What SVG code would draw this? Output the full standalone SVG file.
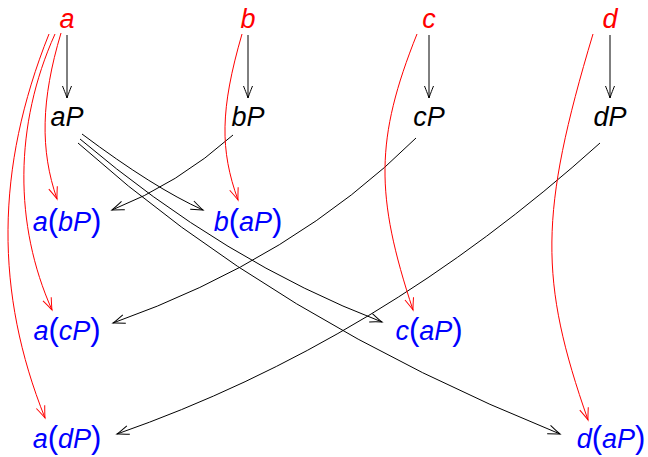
<svg xmlns="http://www.w3.org/2000/svg" width="648" height="457" viewBox="0 0 648 457">
<style>
.t{font-family:"Liberation Sans",Arial,sans-serif;font-size:27px;font-style:italic;text-anchor:middle}
.src{fill:#ff0000}
.mid{fill:#000}
.res{fill:#0000ff}
.up{font-style:normal;font-size:31px}
.k{fill:none;stroke:#000;stroke-width:1}
.r{fill:none;stroke:#ff0000;stroke-width:1}
</style>
<defs>
<marker id="ak" markerUnits="userSpaceOnUse" orient="auto" refX="0" refY="0" markerWidth="16" markerHeight="12" viewBox="-14 -6 16 12" overflow="visible">
<path d="M-12,-4.5 C-7,-2.5 -2,-0.6 0,0 C-2,0.6 -7,2.5 -12,4.5" fill="none" stroke="#000" stroke-width="1"/>
</marker>
<marker id="ar" markerUnits="userSpaceOnUse" orient="auto" refX="0" refY="0" markerWidth="16" markerHeight="12" viewBox="-14 -6 16 12" overflow="visible">
<path d="M-12,-4.5 C-7,-2.5 -2,-0.6 0,0 C-2,0.6 -7,2.5 -12,4.5" fill="none" stroke="#ff0000" stroke-width="1"/>
</marker>
</defs>

<g id="connectors">
<g class="k">
<path d="M67,35 V98" marker-end="url(#ak)"/>
<path d="M248,35 V98" marker-end="url(#ak)"/>
<path d="M429,35 V98" marker-end="url(#ak)"/>
<path d="M610,35 V98" marker-end="url(#ak)"/>
<path d="M82,134 Q154,188 203,210" marker-end="url(#ak)"/>
<path d="M80,139 Q225,262 382,322" marker-end="url(#ak)"/>
<path d="M78,143 Q274,319 560,434" marker-end="url(#ak)"/>
<path d="M233,135 Q178,184 112,210" marker-end="url(#ak)"/>
<path d="M416,138 Q294,259 113,323" marker-end="url(#ak)"/>
<path d="M600,143 Q378,343 117,434" marker-end="url(#ak)"/>
</g>
<g class="r">
<path d="M61,33 C41,100 40,150 57,199" marker-end="url(#ar)"/>
<path d="M55,34 C14,125 14,225 52,310" marker-end="url(#ar)"/>
<path d="M49,34 C-5,169 -5,293 45,418" marker-end="url(#ar)"/>
<path d="M242,34 C220,110 220,150 238,200" marker-end="url(#ar)"/>
<path d="M417,34 C375,139 375,195 413,310" marker-end="url(#ar)"/>
<path d="M593,34 C539,214 539,280 588,420" marker-end="url(#ar)"/>
</g>
</g>

<g id="node-a"><text class="t src" x="67" y="28">a</text></g>
<g id="node-b"><text class="t src" x="248" y="28">b</text></g>
<g id="node-c"><text class="t src" x="429" y="28">c</text></g>
<g id="node-d"><text class="t src" x="610" y="28">d</text></g>

<g id="node-aP"><text class="t mid" x="67" y="126">aP</text></g>
<g id="node-bP"><text class="t mid" x="248" y="126">bP</text></g>
<g id="node-cP"><text class="t mid" x="429" y="126">cP</text></g>
<g id="node-dP"><text class="t mid" x="610" y="126">dP</text></g>

<g id="node-a_bP"><text class="t res" x="67" y="231">a<tspan class="up">(</tspan>bP<tspan class="up">)</tspan></text></g>
<g id="node-b_aP"><text class="t res" x="248" y="231">b<tspan class="up">(</tspan>aP<tspan class="up">)</tspan></text></g>
<g id="node-a_cP"><text class="t res" x="67" y="340">a<tspan class="up">(</tspan>cP<tspan class="up">)</tspan></text></g>
<g id="node-c_aP"><text class="t res" x="429" y="340">c<tspan class="up">(</tspan>aP<tspan class="up">)</tspan></text></g>
<g id="node-a_dP"><text class="t res" x="67" y="448">a<tspan class="up">(</tspan>dP<tspan class="up">)</tspan></text></g>
<g id="node-d_aP"><text class="t res" x="611" y="448">d<tspan class="up">(</tspan>aP<tspan class="up">)</tspan></text></g>
</svg>
